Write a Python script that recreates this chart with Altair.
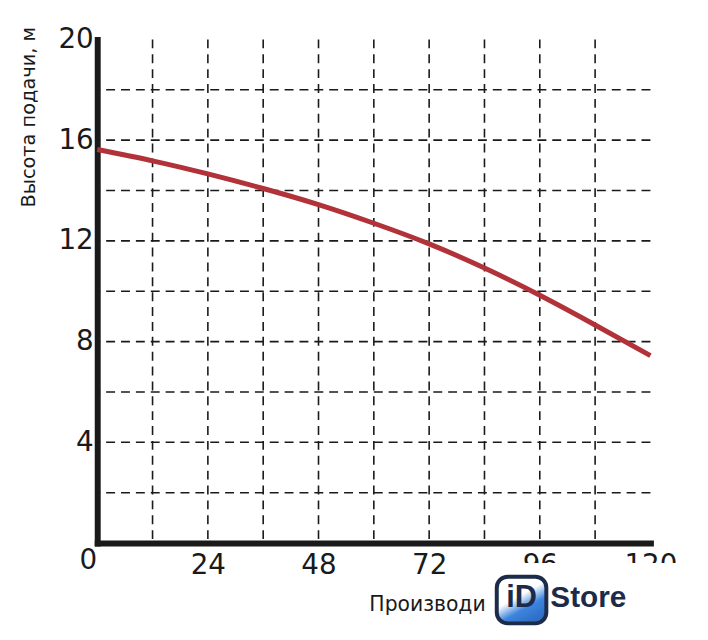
import altair as alt
import pandas as pd

# ---- data ----
flow = [0, 12, 24, 36, 48, 60, 72, 84, 96, 108, 120]
head = [15.63, 15.18, 14.66, 14.08, 13.44, 12.70, 11.88, 10.92, 9.84, 8.66, 7.44]
x_ticks = [24, 48, 72, 96, 120]
y_ticks = [4, 8, 12, 16, 20]
x_grid = [12, 24, 36, 48, 60, 72, 84, 96, 108]
y_grid = [2, 4, 6, 8, 10, 12, 14, 16, 18]
x_title = "Производи"          # visible part; the rest is hidden by the logo
y_title = "Высота подачи, м"

W, H = 558, 508
FONT = "DejaVu Sans"
INK = "#1a1a1a"
NAVY = "#1c2b49"

xs = alt.Scale(domain=[0, 120], nice=False, zero=True)
ys = alt.Scale(domain=[0, 20], nice=False, zero=True)

x_axis = alt.Axis(
    values=x_ticks, title=x_title, grid=False, ticks=False, tickSize=0,
    domainWidth=6, domainColor=INK, domainCap="square",
    labelFont=FONT, labelFontSize=28, labelColor=INK, labelPadding=9,
    labelFlush=False,
    titleFont=FONT, titleFontSize=20.5, titleFontWeight="normal", titleColor=INK,
    titleX=274, titleY=62, titleAlign="left", titleBaseline="middle", titleAnchor="start",
)
y_axis = alt.Axis(
    values=y_ticks, title=y_title, grid=False, ticks=False, tickSize=0,
    domainWidth=6, domainColor=INK, domainCap="square",
    labelFont=FONT, labelFontSize=28, labelColor=INK, labelPadding=4,
    labelFlush=False,
    titleFont=FONT, titleFontSize=19.5, titleFontWeight="normal", titleColor=INK,
    titleX=-69, titleY=78, titleAngle=270, titleAlign="center", titleBaseline="middle",
)

curve_df = pd.DataFrame({"flow": flow, "head": head})
one = pd.DataFrame({"k": [0]})

vgrid = alt.Chart(pd.DataFrame({"x": x_grid})).mark_rule(
    color=INK, strokeWidth=1.6, strokeDash=[9, 6]
).encode(x=alt.X("x:Q", scale=xs, axis=x_axis))

hgrid = alt.Chart(pd.DataFrame({"y": y_grid})).mark_rule(
    color=INK, strokeWidth=1.6, strokeDash=[9, 6]
).encode(y=alt.Y("y:Q", scale=ys, axis=y_axis))

line = alt.Chart(curve_df).mark_line(
    color="#b2323a", strokeWidth=5, interpolate="natural"
).encode(
    x=alt.X("flow:Q", scale=xs, axis=x_axis),
    y=alt.Y("head:Q", scale=ys, axis=y_axis),
)

zero_lbl = alt.Chart(pd.DataFrame({"x": [0], "y": [0], "t": ["0"]})).mark_text(
    font=FONT, fontSize=28, color=INK, align="center", baseline="middle", dx=-9, dy=18
).encode(x=alt.X("x:Q", scale=xs, axis=x_axis), y=alt.Y("y:Q", scale=ys, axis=y_axis), text="t:N")

# watermark (iD Store) overlay
cover = alt.Chart(one).mark_rect(color="white").encode(
    x=alt.value(397), x2=alt.value(604), y=alt.value(528), y2=alt.value(600)
)
grad = alt.Gradient(
    gradient="linear",
    stops=[alt.GradientStop(color="#ffffff", offset=0),
           alt.GradientStop(color="#ffffff", offset=0.5),
           alt.GradientStop(color="#3d85de", offset=0.75),
           alt.GradientStop(color="#2f6fc8", offset=1)],
    x1=0, y1=0, x2=0.6, y2=1,
)
badge = alt.Chart(one).mark_rect(
    color=grad, stroke=NAVY, strokeWidth=4, cornerRadius=11
).encode(x=alt.value(403), x2=alt.value(453), y=alt.value(542), y2=alt.value(589))
badge_txt = alt.Chart(one).mark_text(
    text="iD", font="Liberation Sans", fontSize=31, fontWeight="bold", color=NAVY,
    align="center", baseline="middle"
).encode(x=alt.value(428), y=alt.value(564))
store_txt = alt.Chart(one).mark_text(
    text="Store", font="Liberation Sans", fontSize=30, fontWeight="bold", color=NAVY,
    align="left", baseline="middle"
).encode(x=alt.value(457), y=alt.value(563))

chart = alt.layer(
    vgrid, hgrid, line, zero_lbl, cover, badge, badge_txt, store_txt
).properties(
    width=W, height=H,
    autosize=alt.AutoSizeParams(type="none"),
    padding={"left": 90, "top": 29, "right": 50, "bottom": 85},
    background="white",
).configure_view(stroke=None)

chart.save("out.html", embed_options={"renderer": "svg", "actions": False})
